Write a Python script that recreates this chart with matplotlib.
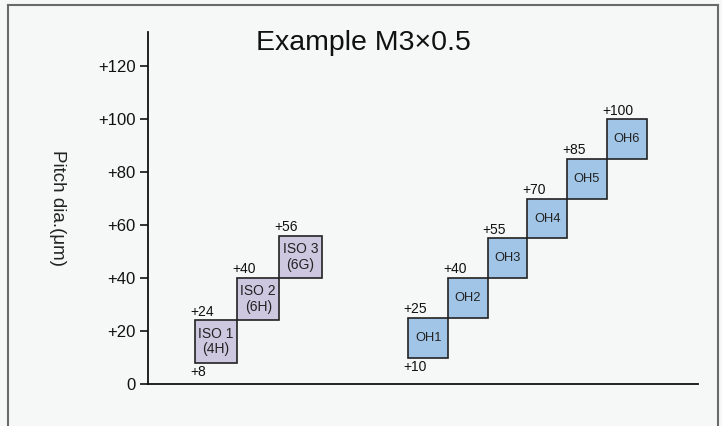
import matplotlib
matplotlib.use("Agg")
import matplotlib.pyplot as plt
from matplotlib.patches import Rectangle
from matplotlib.lines import Line2D

plt.rcParams['font.family'] = ['Liberation Sans', 'DejaVu Sans']

# ---- data ----
iso_names = ["ISO 1\n(4H)", "ISO 2\n(6H)", "ISO 3\n(6G)"]
iso_low = [8, 24, 40]
iso_high = [24, 40, 56]
oh_names = ["OH1", "OH2", "OH3", "OH4", "OH5", "OH6"]
oh_low = [10, 25, 40, 55, 70, 85]
oh_high = [25, 40, 55, 70, 85, 100]
yticks = [0, 20, 40, 60, 80, 100, 120]
ytick_labels = ["0", "+20", "+40", "+60", "+80", "+100", "+120"]
title = "Example M3×0.5"
ylabel = "Pitch dia.(μm)"

# ---- layout ----
W, H = 722, 426
bg = "#f6f8f8"
fig = plt.figure(figsize=(W / 100, H / 100), dpi=100, facecolor=bg)
ax = fig.add_axes([148 / W, 42 / H, 550 / W, 352 / H])
ax.set_facecolor(bg)
ax.set_xlim(0, 550)
ax.set_ylim(0, 133)

for s in ["top", "right"]:
    ax.spines[s].set_visible(False)
for s in ["left", "bottom"]:
    ax.spines[s].set_linewidth(1.3)
    ax.spines[s].set_color("#111111")
ax.set_xticks([])
ax.set_yticks(yticks)
ax.set_yticklabels(ytick_labels, fontsize=12)
ax.tick_params(axis="y", direction="out", length=6, width=1.2, pad=3, colors="#111111")

iso_x0, iso_w = 47.0, 42.2
oh_x0, oh_w = 260.3, 39.7
iso_color = "#cdc8e0"
oh_color = "#a0c5e6"
edge = "#222222"
lab_fs = 10

def draw_group(names, lows, highs, x0, w, color, fs):
    for i, (n, lo, hi) in enumerate(zip(names, lows, highs)):
        x = x0 + i * w
        ax.add_patch(Rectangle((x, lo), w, hi - lo, facecolor=color,
                               edgecolor=edge, linewidth=1.2, zorder=3))
        ax.text(x + w / 2, (lo + hi) / 2, n, ha="center", va="center",
                fontsize=fs, color="#222222", linespacing=1.15, zorder=4)
        ax.annotate(f"+{hi}", (x, hi), xytext=(-3.5, 1.2), textcoords="offset points",
                    ha="left", va="bottom", fontsize=lab_fs, color="#111111")
        if i == 0:
            ax.annotate(f"+{lo}", (x, lo), xytext=(-3.5, -1.5), textcoords="offset points",
                        ha="left", va="top", fontsize=lab_fs, color="#111111")

draw_group(iso_names, iso_low, iso_high, iso_x0, iso_w, iso_color, 10)
draw_group(oh_names, oh_low, oh_high, oh_x0, oh_w, oh_color, 9.3)

fig.text(363 / W, 1 - 43 / H, title, ha="center", va="center", fontsize=20.5, color="#111111")
fig.text(57 / W, 1 - 208 / H, ylabel, ha="center", va="center", rotation=-90,
         fontsize=13.5, color="#222222")

# outer frame (top, left, right)
fc = "#6a6a6a"
fig.add_artist(Line2D([7.5 / W, 7.5 / W], [0, 1 - 4.5 / H], color=fc, lw=1.5, transform=fig.transFigure))
fig.add_artist(Line2D([717.5 / W, 717.5 / W], [0, 1 - 4.5 / H], color=fc, lw=1.5, transform=fig.transFigure))
fig.add_artist(Line2D([7.5 / W, 717.5 / W], [1 - 4.5 / H, 1 - 4.5 / H], color=fc, lw=1.5, transform=fig.transFigure))

fig.savefig("out.png", dpi=100, facecolor=bg)
